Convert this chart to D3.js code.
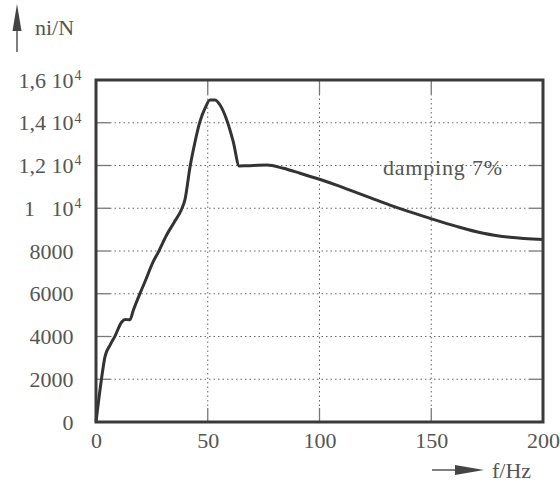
<!DOCTYPE html>
<html>
<head>
<meta charset="utf-8">
<script src="https://cdn.jsdelivr.net/npm/d3@7"></script>
<style>
  html, body { margin: 0; padding: 0; background: #fff; }
  svg { display: block; }
  text { font-family: "Liberation Serif", "DejaVu Serif", serif; fill: #555; }
</style>
</head>
<body>
<svg id="chart" width="560" height="486"></svg>
<script>
// Frequency response: ni/N versus frequency, 7% damping
const freq = [0, 2.5, 4, 6.3, 8.5, 11.5, 13, 15.2, 16.7, 19.7, 21.9, 25.6, 27.9, 31.6, 35, 38.3, 39.8,
  42.1, 44.3, 46.5, 48.8, 51, 53.2, 55.5, 58.5, 61.4, 64.1, 67.4, 76.4, 83.8, 91.3, 101, 109.2,
  113.6, 122.6, 131.5, 140.5, 150.9, 161.4, 173.3, 185.2, 200];
const response = [0, 2050, 3050, 3600, 4020, 4680, 4800, 4780, 5230, 6020, 6560, 7500, 7950, 8750, 9350, 9950, 10400,
  11950, 13100, 14050, 14680, 15060, 15060, 14830, 14130, 13120, 11980, 11990, 12020, 11870, 11640, 11320, 11020,
  10850, 10500, 10150, 9830, 9480, 9150, 8830, 8640, 8540];

const xTicks = [0, 50, 100, 150, 200];
const yTicks = [0, 2000, 4000, 6000, 8000, 10000, 12000, 14000, 16000];
const yTickLabels = ["0", "2000", "4000", "6000", "8000", "1\u2002 10", "1,2 10", "1,4 10", "1,6 10"];
const yTickExponents = ["", "", "", "", "", "4", "4", "4", "4"];
const annotation = "damping 7%";
const yTitle = "ni/N";
const xTitle = "f/Hz";

const svg = d3.select("#chart");
const plotLeft = 96, plotRight = 543, plotTop = 80, plotBottom = 422;

const x = d3.scaleLinear().domain([0, 200]).range([plotLeft, plotRight]);
const y = d3.scaleLinear().domain([0, 16000]).range([plotBottom, plotTop]);

const gridColor = "#666";
const tickColor = "#777";
const tickLen = 14;

// dotted grid
const grid = svg.append("g");
grid.selectAll("line.gy")
  .data(yTicks.slice(1, -1))
  .join("line")
  .attr("x1", plotLeft + tickLen).attr("x2", plotRight - tickLen)
  .attr("y1", d => y(d)).attr("y2", d => y(d))
  .attr("stroke", gridColor).attr("stroke-width", 1)
  .attr("stroke-dasharray", "1.5,3");
grid.selectAll("line.gx")
  .data(xTicks.slice(1, -1))
  .join("line")
  .attr("x1", d => x(d)).attr("x2", d => x(d))
  .attr("y1", plotTop + tickLen).attr("y2", plotBottom - tickLen)
  .attr("stroke", gridColor).attr("stroke-width", 1)
  .attr("stroke-dasharray", "1.5,3");

// short solid ticks on all four sides, pointing inward
const ticks = svg.append("g").attr("stroke", tickColor).attr("stroke-width", 1.3);
yTicks.slice(1, -1).forEach(v => {
  ticks.append("line").attr("x1", plotLeft).attr("x2", plotLeft + tickLen).attr("y1", y(v)).attr("y2", y(v));
  ticks.append("line").attr("x1", plotRight - tickLen).attr("x2", plotRight).attr("y1", y(v)).attr("y2", y(v));
});
xTicks.slice(1, -1).forEach(v => {
  ticks.append("line").attr("x1", x(v)).attr("x2", x(v)).attr("y1", plotBottom - tickLen).attr("y2", plotBottom);
  ticks.append("line").attr("x1", x(v)).attr("x2", x(v)).attr("y1", plotTop).attr("y2", plotTop + tickLen);
});

// axis labels via d3 axes
const yAxis = svg.append("g")
  .attr("transform", `translate(${plotLeft},0)`)
  .call(d3.axisLeft(y).tickValues(yTicks).tickSize(0).tickPadding(22.5)
    .tickFormat((d, i) => yTickLabels[i]));
yAxis.select(".domain").remove();
yAxis.selectAll("text")
  .attr("font-size", 22)
  .attr("font-family", "Liberation Serif, serif")
  .attr("fill", "#555")
  .each(function(d, i) {
    const exp = yTickExponents[i];
    if (exp) {
      const t = d3.select(this);
      const tx = +t.attr("x");
      t.append("tspan")
        .attr("x", tx + 1)
        .attr("dy", "-0.55em")
        .attr("font-size", 14)
        .attr("text-anchor", "start")
        .text(exp);
    }
  });

const xAxis = svg.append("g")
  .attr("transform", `translate(0,${plotBottom})`)
  .call(d3.axisBottom(x).tickValues(xTicks).tickSize(0).tickPadding(10.5));
xAxis.select(".domain").remove();
xAxis.selectAll("text")
  .attr("font-size", 22)
  .attr("font-family", "Liberation Serif, serif")
  .attr("fill", "#555");

// response curve
const line = d3.line()
  .x((d, i) => x(freq[i]))
  .y(d => y(d))
  .curve(d3.curveMonotoneX);
svg.append("path")
  .datum(response)
  .attr("d", line)
  .attr("fill", "none")
  .attr("stroke", "#333")
  .attr("stroke-width", 3)
  .attr("stroke-linejoin", "round");

// frame
svg.append("rect")
  .attr("x", plotLeft).attr("y", plotTop)
  .attr("width", plotRight - plotLeft).attr("height", plotBottom - plotTop)
  .attr("fill", "none")
  .attr("stroke", "#3a3a3a")
  .attr("stroke-width", 3);

// annotation
svg.append("text")
  .attr("x", 383).attr("y", 175)
  .attr("font-size", 22)
  .attr("textLength", 119)
  .text(annotation);

// axis titles with arrows
svg.append("line")
  .attr("x1", 17).attr("x2", 17).attr("y1", 52).attr("y2", 25)
  .attr("stroke", "#555").attr("stroke-width", 1.5);
svg.append("path")
  .attr("d", "M17,4 L12.5,31 L21.5,31 Z")
  .attr("fill", "#444");
svg.append("text")
  .attr("x", 35).attr("y", 35)
  .attr("font-size", 22)
  .text(yTitle);

svg.append("line")
  .attr("x1", 432).attr("x2", 460).attr("y1", 470).attr("y2", 470)
  .attr("stroke", "#555").attr("stroke-width", 1.5);
svg.append("path")
  .attr("d", "M484,470 L455,465 L455,475 Z")
  .attr("fill", "#444");
svg.append("text")
  .attr("x", 492).attr("y", 478)
  .attr("font-size", 22)
  .text(xTitle);
</script>
</body>
</html>
